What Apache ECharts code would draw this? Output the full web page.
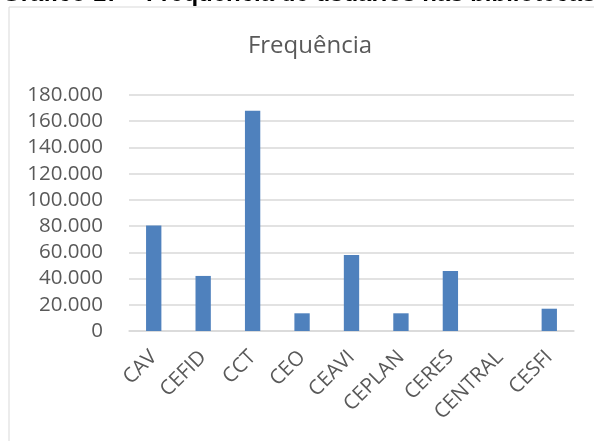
<!DOCTYPE html>
<html>
<head>
<meta charset="utf-8">
<script src="https://cdn.jsdelivr.net/npm/echarts@6/dist/echarts.min.js"></script>
<style>
  html, body { margin: 0; padding: 0; background: #fff; }
  #chart { width: 594px; height: 441px; }
</style>
</head>
<body>
<div id="chart"></div>
<script>
// dados
const bibliotecas = ['CAV', 'CEFID', 'CCT', 'CEO', 'CEAVI', 'CEPLAN', 'CERES', 'CENTRAL', 'CESFI'];
const frequencia = [80500, 42000, 168000, 13500, 58000, 13500, 45800, 0, 17000];
const tituloGrafico = 'Frequência';
const legendaFigura = 'Gráfico 17 – Frequência de usuários nas bibliotecas';

const fonte = '"Open Sans", "Noto Sans", sans-serif';
const cinza = '#595959';

const chart = echarts.init(document.getElementById('chart'));

// separador de milhar com ponto (pt-BR)
const fmt = (v) => String(v).replace(/\B(?=(\d{3})+(?!\d))/g, '.');

chart.setOption({
  backgroundColor: '#fff',
  animation: false,
  title: {
    text: tituloGrafico,
    left: 305, top: 29, textAlign: 'center',
    textStyle: { fontFamily: fonte, fontSize: 24, fontWeight: 'normal', color: cinza }
  },
  graphic: [
    {
      type: 'rect', silent: true,
      shape: { x: 9, y: 7, width: 640, height: 500 },
      style: { fill: 'none', stroke: '#d9d9d9', lineWidth: 1 }
    },
    {
      // legenda da figura, cortada no topo da imagem
      type: 'text', silent: true, left: 2, top: -18,
      style: {
        text: legendaFigura,
        font: 'bold 24px "Liberation Sans", Arial, sans-serif',
        fill: '#000'
      }
    }
  ],
  grid: { left: 129, right: 20, top: 95, bottom: 110 },
  xAxis: {
    type: 'category',
    data: bibliotecas,
    axisLine: { lineStyle: { color: '#d9d9d9', width: 1.5 } },
    axisTick: { show: false },
    axisLabel: {
      rotate: 45, interval: 0, margin: 23,
      fontFamily: fonte, fontSize: 20.5, color: cinza
    }
  },
  yAxis: {
    type: 'value',
    min: 0, max: 180000, interval: 20000,
    axisLine: { show: false },
    axisTick: { show: false },
    splitLine: { lineStyle: { color: '#d9d9d9', width: 1.5 } },
    axisLabel: {
      margin: 26,
      fontFamily: fonte, fontSize: 20.5, color: cinza,
      formatter: fmt
    }
  },
  series: [
    {
      name: tituloGrafico,
      type: 'bar',
      data: frequencia,
      barWidth: '31%',
      itemStyle: { color: '#4f81bd' }
    }
  ]
});
</script>
</body>
</html>
